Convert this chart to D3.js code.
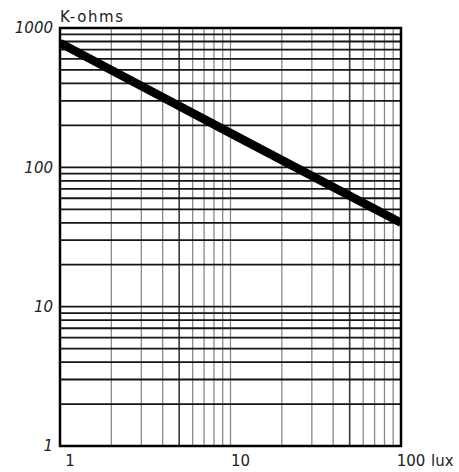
<!DOCTYPE html>
<html>
<head>
<meta charset="utf-8">
<script src="https://cdn.jsdelivr.net/npm/d3@7"></script>
<style>
  html, body { margin: 0; padding: 0; background: #fff; }
  text { font-family: "DejaVu Sans", sans-serif; fill: #222; }
</style>
</head>
<body>
<div class="svg-container"></div>
<script>
(function () {

	"use strict";

	// chart data
	var lux_ticks = [1, 10, 100],
		kohm_ticks = [1, 10, 100, 1000],
		curve_lux = [1, 10, 100],
		curve_kohm = [780, 176, 40];

	var container_width = 459,
		container_height = 472,
		margin = { "top": 28, "right": 58, "bottom": 26, "left": 60 };

	var width = container_width - margin.left - margin.right,
		height = container_height - margin.top - margin.bottom;

	var svg = d3.select(".svg-container").append("svg")
		.attr("width", container_width)
		.attr("height", container_height)
		.append("g")
		.attr("transform", "translate(" + margin.left + "," + margin.top + ")");

	var x = d3.scaleLog().domain([1, 100]).range([0, width]),
		y = d3.scaleLog().domain([1, 1000]).range([height, 0]);

	// vertical grid (grey, every 5 a bit darker)
	svg.selectAll(".vgrid")
		.data(x.ticks())
		.enter()
		.append("line")
		.attr("class", "vgrid")
		.attr("x1", function (d) { return x(d); })
		.attr("x2", function (d) { return x(d); })
		.attr("y1", 0)
		.attr("y2", height)
		.attr("stroke", function (d) { return String(d)[0] === "5" ? "#3a3a3a" : "#8a8a80"; })
		.attr("stroke-width", function (d) { return String(d)[0] === "5" ? 1.6 : 1.3; });

	// horizontal grid (black)
	svg.selectAll(".hgrid")
		.data(y.ticks())
		.enter()
		.append("line")
		.attr("class", "hgrid")
		.attr("x1", 0)
		.attr("x2", width)
		.attr("y1", function (d) { return y(d); })
		.attr("y2", function (d) { return y(d); })
		.attr("stroke", "#151515")
		.attr("stroke-width", 1.8);

	// the curve, clipped to the plot box
	svg.append("clipPath")
		.attr("id", "plot-clip")
		.append("rect")
		.attr("width", width)
		.attr("height", height);

	var line = d3.line()
		.x(function (d) { return x(d[0]); })
		.y(function (d) { return y(d[1]); });

	svg.append("path")
		.datum(d3.zip(curve_lux, curve_kohm))
		.attr("d", line)
		.attr("clip-path", "url(#plot-clip)")
		.attr("fill", "none")
		.attr("stroke", "#000")
		.attr("stroke-width", 8.5);

	// frame
	svg.append("rect")
		.attr("width", width)
		.attr("height", height)
		.attr("fill", "none")
		.attr("stroke", "#000")
		.attr("stroke-width", 2.5);

	// y labels
	svg.selectAll(".ylabel")
		.data(kohm_ticks)
		.enter()
		.append("text")
		.attr("class", "ylabel")
		.attr("x", -7)
		.attr("y", function (d) { return y(d); })
		.attr("dy", "0.36em")
		.attr("text-anchor", "end")
		.attr("font-size", 15)
		.attr("font-style", "italic")
		.text(function (d) { return d; });

	// x labels
	svg.selectAll(".xlabel")
		.data(lux_ticks)
		.enter()
		.append("text")
		.attr("class", "xlabel")
		.attr("x", function (d) { return x(d) + 10; })
		.attr("y", height + 20)
		.attr("text-anchor", "middle")
		.attr("font-size", 15)
		.text(function (d) { return d; });

	svg.append("text")
		.attr("x", x(100) + 30)
		.attr("y", height + 20)
		.attr("font-size", 15)
		.text("lux");

	// unit title
	svg.append("text")
		.attr("x", 0)
		.attr("y", -6)
		.attr("font-size", 15)
		.attr("letter-spacing", 1.6)
		.text("K-ohms");

})();
</script>
</body>
</html>
